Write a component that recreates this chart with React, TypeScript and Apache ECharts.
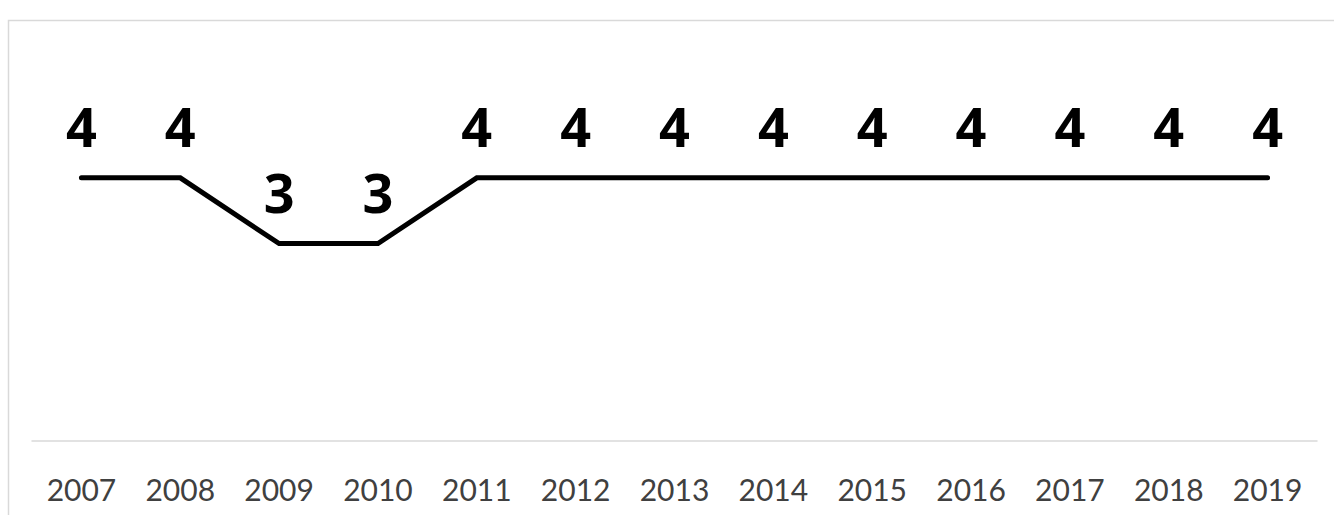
import React, { useEffect, useRef } from "react";
import * as echarts from "echarts";

const years = ["2007", "2008", "2009", "2010", "2011", "2012", "2013", "2014", "2015", "2016", "2017", "2018", "2019"];
const values = [4, 4, 3, 3, 4, 4, 4, 4, 4, 4, 4, 4, 4];

export default function App() {
  const ref = useRef<HTMLDivElement>(null);
  useEffect(() => {
    const chart = echarts.init(ref.current!, null, { renderer: "svg" });
    chart.setOption({
      animation: false,
      backgroundColor: "#ffffff",
      graphic: [
        {
          type: "rect",
          shape: { x: 8.5, y: 20.5, width: 1400, height: 600 },
          style: { fill: "none", stroke: "#d9d9d9", lineWidth: 1.5 },
          silent: true,
        },
      ],
      grid: { left: 32, right: 17, top: 112, bottom: 74 },
      xAxis: {
        type: "category",
        data: years,
        boundaryGap: true,
        axisLine: { show: true, lineStyle: { color: "#d9d9d9", width: 1.5 } },
        axisTick: { show: false },
        axisLabel: {
          color: "#404040",
          fontFamily: "Lato",
          fontSize: 30,
          margin: 33,
          interval: 0,
        },
      },
      yAxis: {
        type: "value",
        min: 0,
        max: 5,
        show: false,
        splitLine: { show: false },
      },
      series: [
        {
          type: "line",
          data: values,
          symbol: "circle",
          symbolSize: 1,
          showSymbol: true,
          itemStyle: { color: "rgba(0,0,0,0)", borderWidth: 0 },
          lineStyle: { color: "#000000", width: 5, cap: "round", join: "miter" },
          label: {
            show: true,
            position: "top",
            distance: 24,
            color: "#000000",
            fontFamily: "Open Sans",
            fontWeight: "bold",
            fontSize: 54,
          },
        },
      ],
    });
    return () => chart.dispose();
  }, []);
  return (
    <div
      ref={ref}
      style={{ position: "fixed", left: 0, top: 0, width: 1334, height: 515 }}
    />
  );
}
